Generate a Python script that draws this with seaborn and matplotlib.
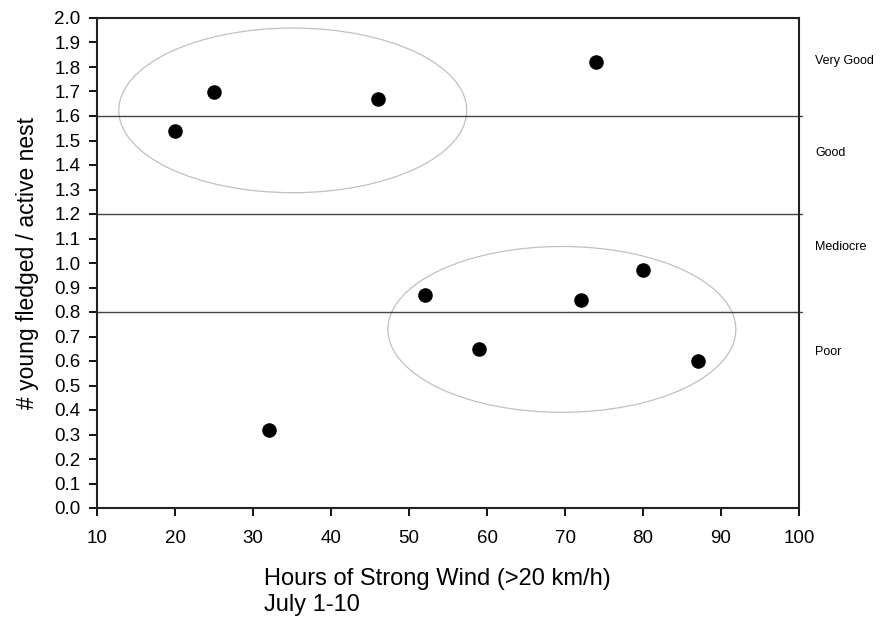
import numpy as np
import pandas as pd
import seaborn as sns
import matplotlib.pyplot as plt
from matplotlib.patches import Ellipse

# veri
wind_hours = [20, 25, 32, 46, 52, 59, 72, 74, 80, 87]
young_per_nest = [1.54, 1.70, 0.32, 1.67, 0.87, 0.65, 0.85, 1.82, 0.97, 0.60]

class_limits = [1.6, 1.2, 0.8]
class_names = ["Very Good", "Good", "Mediocre", "Poor"]
class_label_y = [1.825, 1.45, 1.065, 0.635]

# gruplari cevreleyen elipsler (merkez x, merkez y, genislik, yukseklik)
groups = [(35.1, 1.623, 44.6, 0.672), (69.6, 0.729, 44.6, 0.677)]

df = pd.DataFrame({"hours": wind_hours, "young": young_per_nest})

sns.set_style("ticks")
plt.rcParams["font.family"] = ["Liberation Sans", "DejaVu Sans"]
plt.rcParams["text.color"] = "black"
plt.rcParams["axes.labelcolor"] = "black"
plt.rcParams["xtick.color"] = "black"
plt.rcParams["ytick.color"] = "black"

fig = plt.figure(figsize=(8.8, 6.2), dpi=100)
ax = fig.add_axes([97 / 880, 1 - 508 / 620, 702 / 880, 490 / 620])

for cx, cy, w, h in groups:
    ax.add_patch(Ellipse((cx, cy), w, h, fill=False, edgecolor="#c0c0c0", linewidth=0.9))

for lim in class_limits:
    ax.axhline(lim, color="#444444", linewidth=1.0, xmax=1.004, clip_on=False)

sns.scatterplot(x="hours", y="young", data=df, ax=ax, color="black", s=110,
                edgecolor="black", linewidth=0, zorder=5, legend=False)

ax.set_xlim(10, 100)
ax.set_ylim(0, 2.0)
ax.set_xticks(np.arange(10, 101, 10))
ax.set_yticks(np.arange(0, 2.01, 0.1))
ax.set_yticklabels([f"{v:.1f}" for v in np.arange(0, 2.01, 0.1)])
ax.tick_params(axis="both", direction="out", length=6, width=1.3, labelsize=13.5,
               color="black", labelcolor="black")
ax.tick_params(axis="x", pad=10)
ax.tick_params(axis="y", pad=6)
for side in ["left", "right", "top", "bottom"]:
    ax.spines[side].set_visible(True)
    ax.spines[side].set_linewidth(1.5)
    ax.spines[side].set_color("#222222")

ax.set_xlabel("")
ax.set_ylabel("# young fledged / active nest", fontsize=16.5, color="black")
ax.yaxis.set_label_coords(-0.082, 0.5)

for name, yv in zip(class_names, class_label_y):
    ax.text(1.023, yv, name, transform=ax.get_yaxis_transform(), fontsize=9,
            va="center", ha="left", color="black")

fig.text(264 / 880, 1 - 592 / 620, "Hours of Strong Wind (>20 km/h)\nJuly 1-10",
         fontsize=17, ha="left", va="center", linespacing=1.25, color="black")

fig.savefig("out.png", dpi=100)
